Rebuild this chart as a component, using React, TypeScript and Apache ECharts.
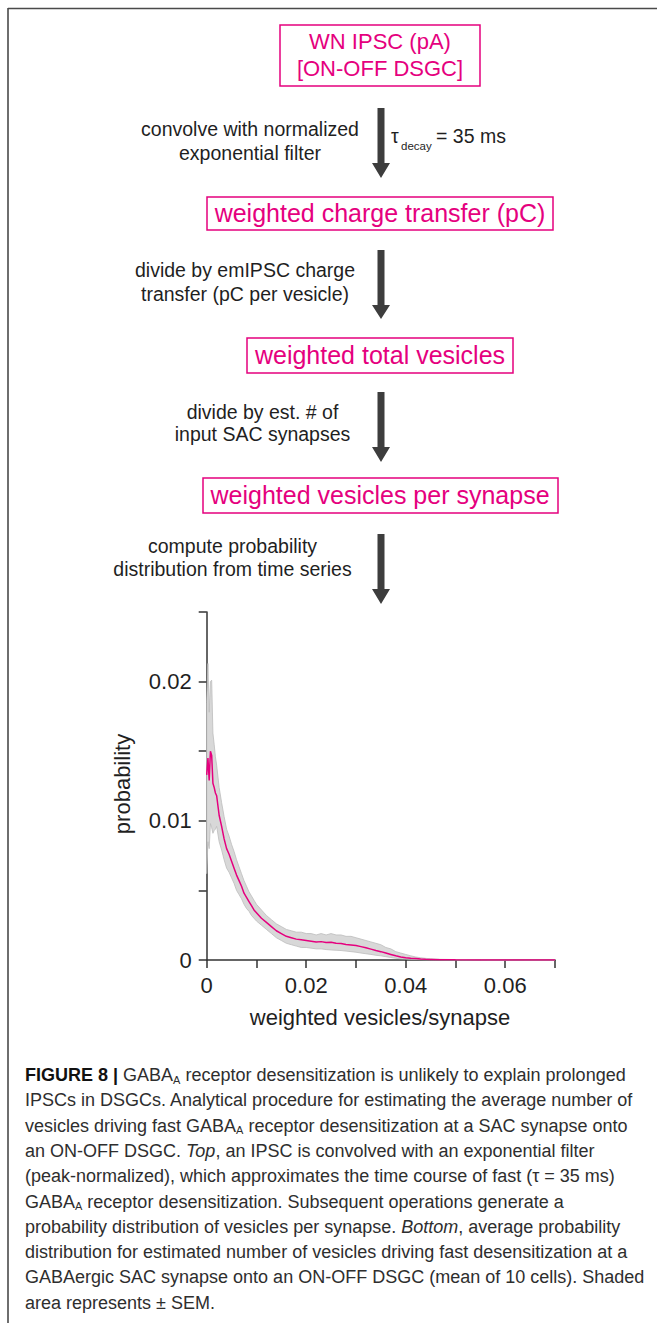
import React, { useEffect, useRef } from "react";
import * as echarts from "echarts";

// weighted vesicles per synapse (x) and probability statistics (mean of 10 cells, ± SEM)
const vesicles = [
  0, 0.00025, 0.0005, 0.00075, 0.001, 0.00125, 0.0015, 0.00175, 0.002, 0.0025,
  0.003, 0.0035, 0.004, 0.0045, 0.005, 0.0055, 0.006, 0.0065, 0.007, 0.0075,
  0.008, 0.0085, 0.009, 0.0095, 0.01, 0.011, 0.012, 0.013, 0.014, 0.015,
  0.016, 0.017, 0.018, 0.019, 0.02, 0.021, 0.022, 0.023, 0.024, 0.025,
  0.026, 0.027, 0.028, 0.029, 0.03, 0.031, 0.032, 0.033, 0.034, 0.035,
  0.036, 0.037, 0.038, 0.039, 0.04, 0.041, 0.042, 0.043, 0.044, 0.045,
  0.047, 0.05, 0.055, 0.06, 0.065, 0.07,
];
const meanProb = [
  0.0133, 0.0145, 0.0129, 0.015, 0.0147, 0.0127, 0.0124, 0.012, 0.0118, 0.0104,
  0.0096, 0.0087, 0.008, 0.0076, 0.0071, 0.0066, 0.0061, 0.0057, 0.0053, 0.0048,
  0.0045, 0.0042, 0.0039, 0.0036, 0.0034, 0.003, 0.0027, 0.0024, 0.0021, 0.0019,
  0.0017, 0.0016, 0.0015, 0.00145, 0.0014, 0.00135, 0.0013, 0.00132, 0.00125, 0.00128,
  0.0012, 0.00118, 0.00112, 0.00108, 0.00104, 0.00096, 0.00088, 0.00078, 0.00068, 0.0006,
  0.0005, 0.0004, 0.0003, 0.00022, 0.00017, 0.00013, 0.0001, 0.00007, 0.00005, 0.00004,
  0.00002, 0.00001, 0.000004, 0.000002, 0.000001, 0,
];
const semUpper = [
  0.0185, 0.0213, 0.0178, 0.02, 0.0201, 0.0163, 0.0155, 0.0146, 0.014, 0.0124,
  0.0113, 0.0103, 0.0094, 0.0089, 0.0083, 0.0078, 0.0072, 0.0067, 0.0062, 0.0057,
  0.0053, 0.0049, 0.0046, 0.0043, 0.004, 0.0036, 0.0032, 0.0029, 0.0026, 0.0024,
  0.0022, 0.0021, 0.002, 0.002, 0.0019, 0.0019, 0.0018, 0.0019, 0.0018, 0.0019,
  0.0018, 0.0018, 0.0017, 0.0017, 0.0016, 0.0015, 0.0014, 0.0013, 0.0012, 0.0011,
  0.0009, 0.0008, 0.0006, 0.0005, 0.0004, 0.0003, 0.00022, 0.00016, 0.00012, 0.00009,
  0.00005, 0.00003, 0.00001, 0.000005, 0.000003, 0.000002,
];
const semLower = [
  0.0062, 0.0085, 0.008, 0.0098, 0.0095, 0.0091, 0.0093, 0.0094, 0.0096, 0.0085,
  0.0079, 0.0072, 0.0066, 0.0063, 0.0059, 0.0055, 0.005, 0.0047, 0.0044, 0.004,
  0.0037, 0.0035, 0.0032, 0.003, 0.0028, 0.0025, 0.0022, 0.0019, 0.0016, 0.0014,
  0.0012, 0.0011, 0.001, 0.0009, 0.0009, 0.00085, 0.0008, 0.0008, 0.00075, 0.00072,
  0.0007, 0.00068, 0.00064, 0.0006, 0.00056, 0.0005, 0.00045, 0.0004, 0.00034, 0.0003,
  0.00024, 0.00018, 0.00012, 0.00009, 0.00007, 0.00005, 0.00004, 0.00003, 0.00002, 0.000015,
  0.00001, 0.000005, 0.000002, 0, 0, 0,
];

const xTickLabels = [0, 0.02, 0.04, 0.06];
const yTickLabels = [0, 0.01, 0.02];

// flow-chart texts
const boxTitles = [
  ["WN IPSC (pA)", "[ON-OFF DSGC]"],
  ["weighted charge transfer (pC)"],
  ["weighted total vesicles"],
  ["weighted vesicles per synapse"],
];
const stepTexts = [
  ["convolve with normalized", "exponential filter"],
  ["divide by emIPSC charge", "transfer (pC per vesicle)"],
  ["divide by est. # of", "input SAC synapses"],
  ["compute probability", "distribution from time series"],
];
const captionLines = [
  "{b|FIGURE 8 |} GABA{s|A} receptor desensitization is unlikely to explain prolonged",
  "IPSCs in DSGCs. Analytical procedure for estimating the average number of",
  "vesicles driving fast GABA{s|A} receptor desensitization at a SAC synapse onto",
  "an ON-OFF DSGC. {i|Top}, an IPSC is convolved with an exponential filter",
  "(peak-normalized), which approximates the time course of fast (τ = 35 ms)",
  "GABA{s|A} receptor desensitization. Subsequent operations generate a",
  "probability distribution of vesicles per synapse. {i|Bottom}, average probability",
  "distribution for estimated number of vesicles driving fast desensitization at a",
  "GABAergic SAC synapse onto an ON-OFF DSGC (mean of 10 cells). Shaded",
  "area represents ± SEM.",
];

const MAGENTA = "#e5007e";
const INK = "#1f1f1f";
const ARROW = "#3d3d3d";
const FONT = "'Liberation Sans', Arial, Helvetica, sans-serif";

// layout of the flow chart
const CX = 380;
const boxes = [
  { x: 280, y: 25, w: 200, h: 61, size: 22, lines: [41, 68] },
  { x: 207, y: 197, w: 346, h: 33, size: 25, lines: [212.5] },
  { x: 247, y: 338, w: 266, h: 35, size: 25, lines: [354.5] },
  { x: 203, y: 478, w: 355, h: 35, size: 25, lines: [495] },
];
const arrows = [
  { top: 108, head: 163, tip: 178 },
  { top: 250, head: 305, tip: 319 },
  { top: 392, head: 447, tip: 462 },
  { top: 534, head: 589, tip: 604 },
];
const stepLayout = [
  { cx: 250, lines: [129, 153] },
  { cx: 245, lines: [270, 294] },
  { cx: 262.5, lines: [412, 433.5] },
  { cx: 232.5, lines: [546, 568.5] },
];

function formatTick(list: number[]) {
  return (v: number) => {
    const hit = list.find((t) => Math.abs(t - v) < 1e-9);
    return hit === undefined ? "" : String(hit);
  };
}

export default function App() {
  const ref = useRef<HTMLDivElement>(null);

  useEffect(() => {
    document.body.style.margin = "0";
    const chart = echarts.init(ref.current!, null, { renderer: "svg" });

    const graphics: any[] = [];

    // frame lines
    graphics.push({
      type: "line",
      shape: { x1: 8, y1: 8.5, x2: 657, y2: 8.5 },
      style: { stroke: "#4a4a4a", lineWidth: 1.6 },
    });
    graphics.push({
      type: "line",
      shape: { x1: 8, y1: 8, x2: 8, y2: 1323 },
      style: { stroke: "#4a4a4a", lineWidth: 1.6 },
    });

    // boxes
    boxes.forEach((b, i) => {
      graphics.push({
        type: "rect",
        shape: { x: b.x, y: b.y, width: b.w, height: b.h },
        style: { fill: "none", stroke: MAGENTA, lineWidth: 1.5 },
      });
      boxTitles[i].forEach((t, j) => {
        graphics.push({
          type: "text",
          x: CX,
          y: b.lines[j],
          style: {
            text: t,
            fill: MAGENTA,
            fontSize: b.size,
            fontFamily: FONT,
            align: "center",
            verticalAlign: "middle",
          },
        });
      });
    });

    // arrows
    arrows.forEach((a) => {
      const x = 381;
      graphics.push({
        type: "polygon",
        shape: {
          points: [
            [x - 3.5, a.top],
            [x + 3.5, a.top],
            [x + 3.5, a.head],
            [x + 9, a.head],
            [x, a.tip],
            [x - 9, a.head],
            [x - 3.5, a.head],
          ],
        },
        style: { fill: ARROW },
      });
    });

    // step descriptions
    stepTexts.forEach((lines, i) => {
      lines.forEach((t, j) => {
        graphics.push({
          type: "text",
          x: stepLayout[i].cx,
          y: stepLayout[i].lines[j],
          style: {
            text: t,
            fill: INK,
            fontSize: 19.5,
            fontFamily: FONT,
            align: "center",
            verticalAlign: "middle",
          },
        });
      });
    });

    // tau decay annotation
    graphics.push({
      type: "text",
      x: 391,
      y: 136,
      style: { text: "τ", fill: INK, fontSize: 19.5, fontFamily: FONT, align: "left", verticalAlign: "middle" },
    });
    graphics.push({
      type: "text",
      x: 401,
      y: 146,
      style: { text: "decay", fill: INK, fontSize: 11.5, fontFamily: FONT, align: "left", verticalAlign: "middle" },
    });
    graphics.push({
      type: "text",
      x: 436,
      y: 136,
      style: { text: "= 35 ms", fill: INK, fontSize: 19.5, fontFamily: FONT, align: "left", verticalAlign: "middle" },
    });

    // axis titles
    graphics.push({
      type: "text",
      x: 122,
      y: 784,
      rotation: Math.PI / 2,
      style: {
        text: "probability",
        fill: INK,
        fontSize: 22,
        fontFamily: FONT,
        align: "center",
        verticalAlign: "middle",
      },
    });
    graphics.push({
      type: "text",
      x: 380,
      y: 1017,
      style: {
        text: "weighted vesicles/synapse",
        fill: INK,
        fontSize: 22,
        fontFamily: FONT,
        align: "center",
        verticalAlign: "middle",
      },
    });

    // caption
    captionLines.forEach((t, i) => {
      graphics.push({
        type: "text",
        x: 25,
        y: 1075 + i * 25.3,
        style: {
          text: t,
          fill: "#2e2e2e",
          fontSize: 18,
          fontFamily: FONT,
          lineHeight: 20,
          align: "left",
          verticalAlign: "middle",
          rich: {
            b: { fontWeight: "bold", fill: "#111", fontSize: 18, fontFamily: FONT, lineHeight: 20 },
            i: { fontStyle: "italic", fill: "#2e2e2e", fontSize: 18, fontFamily: FONT, lineHeight: 20 },
            s: { fill: "#2e2e2e", fontSize: 11, fontFamily: FONT, lineHeight: 9, verticalAlign: "bottom" },
          },
        },
      });
    });

    const axisStyle = { color: "#333", width: 1.5 };

    chart.setOption({
      animation: false,
      backgroundColor: "#fff",
      grid: { left: 206.7, top: 612, width: 348.3, height: 348 },
      xAxis: {
        type: "value",
        min: 0,
        max: 0.07,
        interval: 0.01,
        splitLine: { show: false },
        axisLine: { lineStyle: axisStyle },
        axisTick: { length: 8, lineStyle: axisStyle },
        axisLabel: {
          fontSize: 22,
          fontFamily: FONT,
          color: INK,
          margin: 14,
          formatter: formatTick(xTickLabels),
        },
      },
      yAxis: {
        type: "value",
        min: 0,
        max: 0.025,
        interval: 0.005,
        splitLine: { show: false },
        axisLine: { show: true, lineStyle: axisStyle },
        axisTick: { show: true, length: 8, lineStyle: axisStyle },
        axisLabel: {
          fontSize: 22,
          fontFamily: FONT,
          color: INK,
          margin: 15,
          formatter: formatTick(yTickLabels),
        },
      },
      series: [
        {
          type: "custom",
          name: "SEM",
          z: 2,
          data: [[0, 0]],
          renderItem: (_params: any, api: any) => {
            const pts: number[][] = [];
            for (let i = 0; i < vesicles.length; i++) pts.push(api.coord([vesicles[i], semUpper[i]]));
            for (let i = vesicles.length - 1; i >= 0; i--) pts.push(api.coord([vesicles[i], semLower[i]]));
            return {
              type: "polygon",
              shape: { points: pts },
              style: { fill: "#d8d8d8", stroke: "#bcbcbc", lineWidth: 0.8 },
            };
          },
        },
        {
          type: "line",
          name: "mean",
          z: 3,
          symbol: "none",
          data: vesicles.map((x, i) => [x, meanProb[i]]),
          lineStyle: { color: MAGENTA, width: 1.5 },
        },
      ],
      graphic: graphics,
    });

    return () => chart.dispose();
  }, []);

  return <div ref={ref} style={{ width: 657, height: 1323 }} />;
}
